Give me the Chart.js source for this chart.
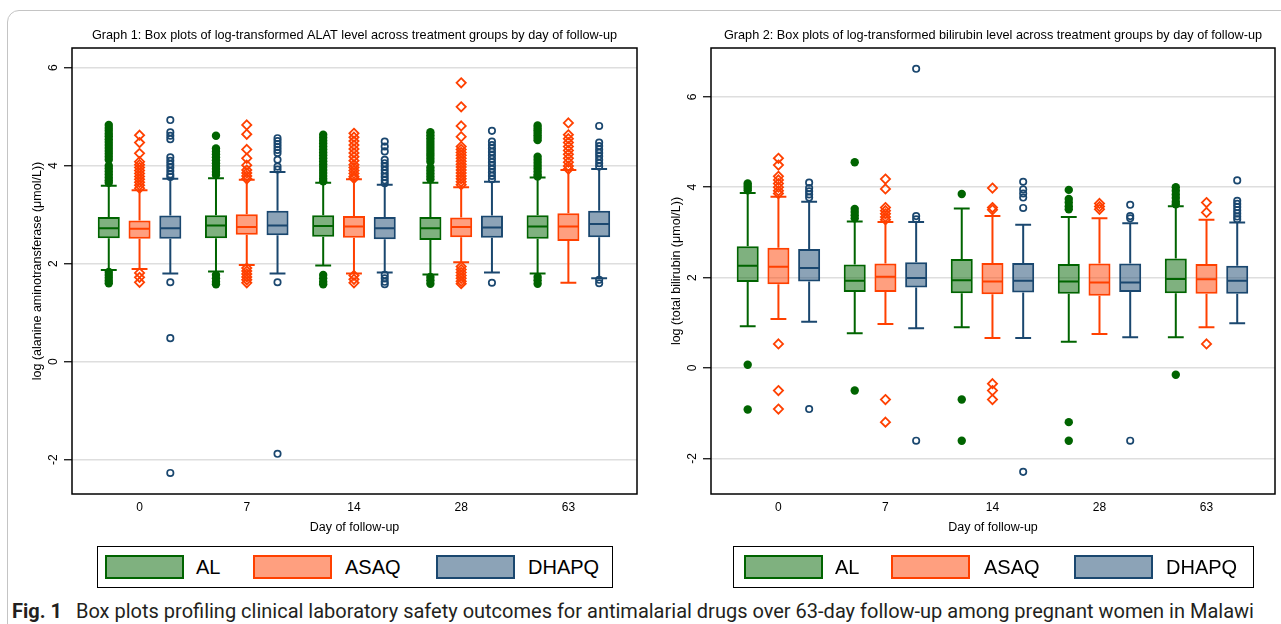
<!DOCTYPE html>
<html>
<head>
<meta charset="utf-8">
<script src="https://cdn.jsdelivr.net/npm/chart.js@4.4.1/dist/chart.umd.min.js"></script>
<style>
body { margin: 0; width: 1281px; height: 624px; overflow: hidden; background: #fff; position: relative; font-family: "Liberation Sans", Arial, sans-serif; }
.frame { position: absolute; left: 7px; top: 10px; width: 1330px; height: 700px; border: 1px solid #c4c4c4; border-radius: 12px; }
canvas { position: absolute; top: 0; }
.legend { position: absolute; top: 546px; height: 42px; border: 1px solid #000; box-sizing: border-box; }
.sw { position: absolute; top: 8px; width: 79px; height: 24px; box-sizing: border-box; border: 2px solid; }
.lab { position: absolute; top: 8px; font-size: 20px; line-height: 24px; color: #000; }
.caption { position: absolute; left: 12px; top: 599px; font-family: Roboto, sans-serif; font-size: 20px; line-height: 24px; color: #231f20; white-space: nowrap; }
.caption b { margin-right: 14px; }
</style>
</head>
<body>
<div class="frame"></div>
<canvas id="alat" width="660" height="545" style="left:0px"></canvas>
<canvas id="bili" width="642" height="545" style="left:639px"></canvas>

<div class="legend" style="left:97px;width:516px">
  <div class="sw" style="left:7px;border-color:#006400;background:rgba(0,100,0,0.5)"></div><div class="lab" style="left:98px">AL</div>
  <div class="sw" style="left:155px;border-color:#ff4000;background:rgba(255,64,0,0.5)"></div><div class="lab" style="left:247px">ASAQ</div>
  <div class="sw" style="left:338px;border-color:#1a476f;background:rgba(26,71,111,0.5)"></div><div class="lab" style="left:430px">DHAPQ</div>
</div>
<div class="legend" style="left:733px;width:521px">
  <div class="sw" style="left:10px;border-color:#006400;background:rgba(0,100,0,0.5)"></div><div class="lab" style="left:101px">AL</div>
  <div class="sw" style="left:157px;border-color:#ff4000;background:rgba(255,64,0,0.5)"></div><div class="lab" style="left:250px">ASAQ</div>
  <div class="sw" style="left:340px;border-color:#1a476f;background:rgba(26,71,111,0.5)"></div><div class="lab" style="left:432px">DHAPQ</div>
</div>
<div class="caption"><b>Fig. 1</b>Box plots profiling clinical laboratory safety outcomes for antimalarial drugs over 63-day follow-up among pregnant women in Malawi</div>

<script>
const days = ["0", "7", "14", "28", "63"];
const groups = ["AL", "ASAQ", "DHAPQ"];

// each day: [lower whisker, q1, median, q3, upper whisker]
const alatAL = [[1.87, 2.52, 2.72, 2.95, 3.59], [1.84, 2.52, 2.78, 2.99, 3.74], [1.96, 2.55, 2.77, 2.99, 3.65], [1.78, 2.48, 2.72, 2.95, 3.65], [1.80, 2.51, 2.76, 2.99, 3.76]];
const alatASAQ = [[1.89, 2.51, 2.71, 2.88, 3.50], [1.97, 2.59, 2.75, 3.01, 3.71], [1.80, 2.53, 2.76, 2.97, 3.72], [2.03, 2.54, 2.75, 2.94, 3.56], [1.61, 2.46, 2.76, 3.03, 3.91]];
const alatDHAPQ = [[1.80, 2.51, 2.72, 2.98, 3.73], [1.80, 2.58, 2.78, 3.08, 3.87], [1.82, 2.50, 2.72, 2.95, 3.61], [1.82, 2.53, 2.74, 2.98, 3.67], [1.70, 2.54, 2.81, 3.08, 3.93]];

const alatALOut = [
  [4.83, 4.77, 4.71, 4.65, 4.6, 4.54, 4.48, 4.42, 4.36, 4.3, 4.24, 4.18, 4.12, 4.0, 3.94, 3.88, 3.82, 3.76, 3.7, 3.65, 1.83, 1.77, 1.71, 1.65, 1.6],
  [4.61, 4.35, 4.29, 4.23, 4.17, 4.11, 4.05, 3.99, 3.93, 3.87, 3.81, 1.77, 1.7, 1.63, 1.58],
  [4.63, 4.57, 4.51, 4.45, 4.39, 4.33, 4.27, 4.21, 4.15, 4.09, 4.03, 3.97, 3.91, 3.85, 3.79, 3.73, 3.68, 1.77, 1.7, 1.63, 1.58],
  [4.68, 4.62, 4.56, 4.5, 4.44, 4.38, 4.32, 4.26, 4.2, 4.14, 4.08, 3.96, 3.9, 3.84, 3.78, 3.72, 1.73, 1.66, 1.59],
  [4.82, 4.77, 4.72, 4.67, 4.62, 4.57, 4.52, 4.18, 4.12, 4.06, 4.0, 3.94, 3.88, 3.82, 3.78, 1.73, 1.66, 1.59]
];
const alatASAQOut = [
  [4.62, 4.47, 4.25, 4.08, 4.02, 3.96, 3.9, 3.84, 3.78, 3.72, 3.66, 3.6, 3.54, 1.81, 1.72, 1.62],
  [4.83, 4.64, 4.33, 4.15, 4.01, 3.91, 3.85, 3.79, 3.73, 1.91, 1.85, 1.79, 1.73, 1.67, 1.61],
  [4.66, 4.58, 4.5, 4.42, 4.34, 4.26, 4.18, 4.1, 4.02, 3.96, 3.9, 3.84, 3.78, 3.74, 1.76, 1.68, 1.61],
  [5.69, 5.2, 4.81, 4.59, 4.39, 4.33, 4.27, 4.21, 4.15, 4.09, 4.03, 3.97, 3.91, 3.85, 3.79, 3.73, 3.67, 3.61, 1.94, 1.88, 1.82, 1.76, 1.7, 1.64, 1.59],
  [4.87, 4.63, 4.55, 4.47, 4.39, 4.31, 4.23, 4.15, 4.07, 3.99, 3.93]
];
const alatDHAPQOut = [
  [4.93, 4.68, 4.61, 4.54, 4.17, 4.1, 4.03, 3.96, 3.89, 3.82, 3.77, 1.62, 0.48, -2.27],
  [4.56, 4.5, 4.44, 4.38, 4.32, 4.26, 4.12, 3.98, 3.92, 1.62, -1.88],
  [4.49, 4.39, 4.29, 4.12, 4.05, 3.98, 3.91, 3.84, 3.77, 3.7, 3.64, 1.77, 1.7, 1.63, 1.58],
  [4.71, 4.49, 4.42, 4.35, 4.28, 4.21, 4.14, 4.07, 4.0, 3.93, 3.86, 3.79, 3.72, 1.61],
  [4.81, 4.47, 4.4, 4.33, 4.26, 4.19, 4.12, 4.05, 3.98, 1.67, 1.6]
];

const biliAL = [[0.92, 1.90, 2.26, 2.69, 3.87], [0.77, 1.68, 1.93, 2.29, 3.24], [0.90, 1.65, 1.94, 2.41, 3.53], [0.58, 1.64, 1.91, 2.30, 3.34], [0.68, 1.65, 1.97, 2.42, 3.58]];
const biliASAQ = [[1.08, 1.85, 2.24, 2.66, 3.79], [0.97, 1.68, 2.02, 2.31, 3.23], [0.66, 1.63, 1.91, 2.32, 3.36], [0.75, 1.60, 1.89, 2.31, 3.31], [0.90, 1.64, 1.96, 2.30, 3.28]];
const biliDHAPQ = [[1.02, 1.91, 2.21, 2.63, 3.68], [0.88, 1.78, 1.99, 2.34, 3.23], [0.66, 1.67, 1.93, 2.32, 3.17], [0.68, 1.68, 1.89, 2.31, 3.20], [0.99, 1.64, 1.93, 2.26, 3.22]];

const biliALOut = [
  [4.08, 4.03, 3.98, 3.93, 0.07, -0.92],
  [4.55, 3.52, 3.45, 3.38, 3.31, -0.5],
  [3.85, -0.7, -1.61],
  [3.94, 3.74, 3.66, 3.58, 3.51, -1.2, -1.61],
  [4.0, 3.92, 3.84, 3.76, 3.68, 3.62, -0.15]
];
const biliASAQOut = [
  [4.64, 4.49, 4.24, 4.16, 4.08, 4.0, 3.92, 3.86, 0.53, -0.5, -0.91],
  [4.18, 3.96, 3.55, 3.48, 3.41, 3.34, 3.28, -0.7, -1.2],
  [3.98, 3.55, 3.5, -0.35, -0.5, -0.7],
  [3.64, 3.57, 3.51],
  [3.66, 3.44, 0.53]
];
const biliDHAPQOut = [
  [4.1, 3.98, 3.91, 3.84, 3.77, -0.91],
  [6.62, 3.36, 3.29, -1.61],
  [4.12, 3.95, 3.86, 3.77, 3.54, -2.3],
  [3.61, 3.36, 3.31, -1.61],
  [4.15, 3.7, 3.63, 3.56, 3.49, 3.42, 3.35, 3.29]
];

const lineColors = ["#006400", "#ff4000", "#1a476f"];
const fillColors = ["rgba(0,100,0,0.5)", "rgba(255,64,0,0.5)", "rgba(26,71,111,0.5)"];
const markers = ["dot", "diamond", "ring"];

Chart.defaults.font.family = "'Liberation Sans', Arial, sans-serif";
Chart.defaults.font.size = 12;
Chart.defaults.color = "#000";

function drawMarker(ctx, type, x, y, color) {
  ctx.beginPath();
  if (type === "dot") {
    ctx.fillStyle = color;
    ctx.arc(x, y, 4.2, 0, Math.PI * 2);
    ctx.fill();
  } else if (type === "diamond") {
    ctx.strokeStyle = color;
    ctx.lineWidth = 1.8;
    ctx.moveTo(x, y - 4.6);
    ctx.lineTo(x + 4.6, y);
    ctx.lineTo(x, y + 4.6);
    ctx.lineTo(x - 4.6, y);
    ctx.closePath();
    ctx.stroke();
  } else {
    ctx.strokeStyle = color;
    ctx.lineWidth = 1.7;
    ctx.arc(x, y, 3.2, 0, Math.PI * 2);
    ctx.stroke();
  }
}

// whiskers, medians and outside values on top of the floating bars
const boxPlugin = {
  id: "boxWhiskers",
  afterDatasetsDraw(chart) {
    const ctx = chart.ctx;
    const ys = chart.scales.y;
    const a = chart.chartArea;
    ctx.save();
    ctx.beginPath();
    ctx.rect(a.left, a.top, a.right - a.left, a.bottom - a.top);
    ctx.clip();
    chart.data.datasets.forEach((ds, i) => {
      chart.getDatasetMeta(i).data.forEach((bar, j) => {
        const s = ds.stats[j];
        const half = bar.width / 2;
        const cap = bar.width * 0.36;
        ctx.strokeStyle = ds.borderColor;
        ctx.lineWidth = 2;
        ctx.beginPath();
        ctx.moveTo(bar.x, ys.getPixelForValue(s[3]));
        ctx.lineTo(bar.x, ys.getPixelForValue(s[4]));
        ctx.moveTo(bar.x - cap, ys.getPixelForValue(s[4]));
        ctx.lineTo(bar.x + cap, ys.getPixelForValue(s[4]));
        ctx.moveTo(bar.x, ys.getPixelForValue(s[1]));
        ctx.lineTo(bar.x, ys.getPixelForValue(s[0]));
        ctx.moveTo(bar.x - cap, ys.getPixelForValue(s[0]));
        ctx.lineTo(bar.x + cap, ys.getPixelForValue(s[0]));
        ctx.moveTo(bar.x - half + 1, ys.getPixelForValue(s[2]));
        ctx.lineTo(bar.x + half - 1, ys.getPixelForValue(s[2]));
        ctx.stroke();
        ds.outliers[j].forEach(v => drawMarker(ctx, ds.marker, bar.x, ys.getPixelForValue(v), ds.borderColor));
      });
    });
    ctx.restore();
  },
  afterDraw(chart) {
    const a = chart.chartArea;
    const ctx = chart.ctx;
    ctx.save();
    ctx.strokeStyle = "#000";
    ctx.lineWidth = 1.5;
    ctx.strokeRect(a.left, a.top, a.right - a.left, a.bottom - a.top);
    ctx.restore();
  }
};

function boxSet(k, stats, outliers) {
  return {
    label: groups[k],
    data: stats.map((s, i) => ({ x: i, y: [s[1], s[3]] })),
    stats: stats,
    outliers: outliers,
    marker: markers[k],
    backgroundColor: fillColors[k],
    borderColor: lineColors[k],
    borderWidth: 2,
    borderSkipped: false,
    categoryPercentage: 0.861,
    barPercentage: 0.717
  };
}

function makeChart(id, title, yTitle, yMin, yMax, padRight, sets) {
  return new Chart(document.getElementById(id), {
    type: "bar",
    data: { datasets: sets },
    plugins: [boxPlugin],
    options: {
      responsive: false,
      animation: false,
      layout: { padding: { left: 0, right: padRight, top: 0, bottom: 0 } },
      plugins: {
        legend: { display: false },
        tooltip: { enabled: false },
        title: {
          display: true,
          text: title,
          fullSize: false,
          font: { size: 12.7, weight: "normal" },
          color: "#000",
          padding: { top: 27.4, bottom: 5.36 }
        }
      },
      scales: {
        x: {
          type: "linear",
          offset: false,
          min: -0.63,
          max: 4.64,
          grid: { display: false, drawTicks: false },
          border: { display: false },
          ticks: {
            stepSize: 1,
            includeBounds: false,
            padding: 6,
            callback: v => days[v] ?? ""
          },
          title: { display: true, text: "Day of follow-up", font: { size: 12.5 }, padding: { top: 0, bottom: 9.5 } },
          afterFit: s => { s.height = 51; }
        },
        y: {
          min: yMin,
          max: yMax,
          grid: { color: "#dedede", lineWidth: 1.5, tickColor: "#000", tickLength: 8, tickWidth: 1.2 },
          border: { display: false },
          ticks: {
            stepSize: 2,
            includeBounds: false,
            minRotation: 90,
            maxRotation: 90,
            crossAlign: "center",
            padding: 4.5,
            callback: v => String(v)
          },
          title: { display: true, text: yTitle, font: { size: 12.5 }, padding: { top: 30.2, bottom: 0 } },
          afterFit: s => { s.width = 72; }
        }
      }
    }
  });
}

makeChart("alat", "Graph 1: Box plots of log-transformed ALAT level across treatment groups by day of follow-up",
  "log (alanine aminotransferase (\u03bcmol/L))", -2.7, 6.4, 23,
  [boxSet(0, alatAL, alatALOut), boxSet(1, alatASAQ, alatASAQOut), boxSet(2, alatDHAPQ, alatDHAPQOut)]);

makeChart("bili", "Graph 2: Box plots of log-transformed bilirubin level across treatment groups by day of follow-up",
  "log (total bilirubin (\u03bcmol/L))", -2.79, 7.08, 6,
  [boxSet(0, biliAL, biliALOut), boxSet(1, biliASAQ, biliASAQOut), boxSet(2, biliDHAPQ, biliDHAPQOut)]);
</script>
</body>
</html>
